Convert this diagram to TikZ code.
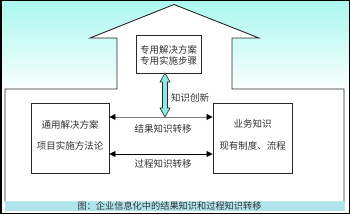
\documentclass[tikz,border=0pt]{standalone}
\usepackage{fontspec}
\newfontfamily\cjk{Noto Sans CJK SC}
\usetikzlibrary{arrows.meta}
\definecolor{skyc}{RGB}{170,248,238}
\definecolor{bandc}{RGB}{176,228,236}
\definecolor{arrc}{RGB}{140,236,226}
\definecolor{txtc}{RGB}{50,50,50}
\definecolor{linec}{RGB}{40,40,40}
\tikzset{
  boxstyle/.style={draw=linec, line width=0.9pt, fill=white, inner sep=0pt},
  lbl/.style={font=\cjk\fontsize{9.5}{11}\selectfont, text=txtc, inner sep=0pt},
  tarrow/.style={{Triangle[length=6pt,width=6pt,color=black]}-{Triangle[length=6pt,width=6pt,color=black]}, line width=0.8pt},
}
\begin{document}
\begin{tikzpicture}[x=1pt,y=1pt]
\useasboundingbox (0,0) rectangle (350,214);
% background gradient
\fill[white] (0,0) rectangle (350,214);
\shade[top color=skyc, bottom color=white] (1,118) rectangle (349,213);
% caption band
\fill[bandc] (5,3) rectangle (345,13);
% house
\fill[white] (5,13) -- (5,125) -- (117,125) -- (117,176) -- (90,176) -- (174,209.5)
  -- (259,176) -- (232,176) -- (232,125) -- (344,125) -- (344,13) -- cycle;
\draw[linec, line width=0.9pt] (5,13) -- (5,125) -- (117,125) -- (117,176) -- (90,176) -- (174,209.5)
  -- (259,176) -- (232,176) -- (232,125) -- (344,125) -- (344,13);
% boxes
\node[boxstyle, minimum width=65pt, minimum height=38pt] (top) at (168.5,160) {};
\node[boxstyle, minimum width=78pt, minimum height=70pt] (left) at (70,76) {};
\node[boxstyle, minimum width=79pt, minimum height=70pt] (right) at (252.5,76) {};
% box texts
\node[lbl] (t1) at (168.5,164.5) {专用解决方案};
\node[lbl] (t2) at (168.5,153.5) {专用实施步骤};
\node[lbl] (l1) at (70,89) {通用解决方案};
\node[lbl] (l2) at (70,68) {项目实施方法论};
\node[lbl] (r1) at (252.5,90) {业务知识};
\node[lbl] (r2) at (252.5,68) {现有制度、流程};
% horizontal arrows
\coordinate (ua) at (left.east |- 0,97);
\coordinate (ub) at (right.west |- 0,97);
\coordinate (la) at (left.east |- 0,60);
\coordinate (lb) at (right.west |- 0,60);
\draw[tarrow, draw=gray] (ua) -- (ub);
\draw[tarrow, draw=black] (la) -- (lb);
\node[lbl] (res) at (163,85) {结果知识转移};
\node[lbl] (proc) at (163,50) {过程知识转移};
% vertical double arrow
\coordinate (vt) at (165,141);
\coordinate (vb) at (165,97);
\filldraw[fill=arrc, draw=linec, line width=0.6pt]
  (vt) -- ++(5,-9) -- ++(-2.5,0) -- ++(0,-26) -- ++(2.5,0) -- (vb)
  -- ++(-5,9) -- ++(2.5,0) -- ++(0,26) -- ++(-2.5,0) -- cycle;
\node[lbl] (innov) at (190,116) {知识创新};
% caption
\node[lbl, font=\cjk\fontsize{9.2}{11}\selectfont, text=black!80] (cap) at (169.5,8) {图：企业信息化中的结果知识和过程知识转移};
% outer border
\draw[black, line width=1.5pt] (0.75,0.75) rectangle (349.25,213.25);
\end{tikzpicture}
\end{document}
